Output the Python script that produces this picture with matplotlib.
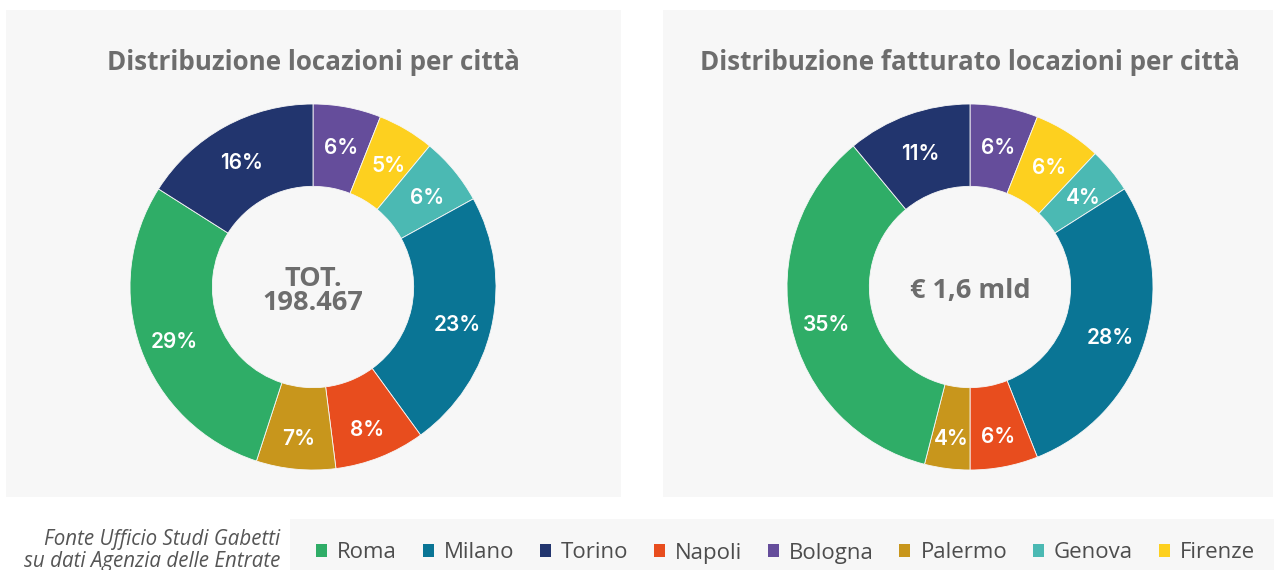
import matplotlib.pyplot as plt
from matplotlib.patches import Rectangle, Patch
from matplotlib.transforms import offset_copy

# slice order (clockwise from 12 o'clock)
cities = ["Bologna", "Firenze", "Genova", "Milano", "Napoli", "Palermo", "Roma", "Torino"]
locazioni = [6, 5, 6, 23, 8, 7, 29, 16]
fatturato = [6, 6, 4, 28, 6, 4, 35, 11]

colors = {"Roma": "#2fad67", "Milano": "#0a7595", "Torino": "#22356e", "Napoli": "#e84d1e",
          "Bologna": "#654d9b", "Palermo": "#c8961c", "Genova": "#4bb9b3", "Firenze": "#fdd01f"}
legend_order = ["Roma", "Milano", "Torino", "Napoli", "Bologna", "Palermo", "Genova", "Firenze"]

titles = ["Distribuzione locazioni per città", "Distribuzione fatturato locazioni per città"]
centers = ["TOT.\n198.467", "€ 1,6 mld"]

W, H = 1274, 570
fig = plt.figure(figsize=(W / 100, H / 100), dpi=100)
fig.patch.set_facecolor("white")

gray_bg = "#f7f7f7"
txt_gray = "#6d6d6d"

def fx(px):
    return px / W

def fy(py):
    return 1 - py / H

# panel backgrounds
for x0, x1 in [(6, 621), (663, 1273)]:
    fig.patches.append(Rectangle((fx(x0), fy(497)), fx(x1 - x0), (497 - 10) / H,
                                 transform=fig.transFigure, facecolor=gray_bg, edgecolor="none", zorder=-5))
# legend box
fig.patches.append(Rectangle((fx(290), 0), fx(W - 290), (570 - 519) / H,
                             transform=fig.transFigure, facecolor=gray_bg, edgecolor="none", zorder=-5))

R = 183
for i, (cx, vals) in enumerate([(313, locazioni), (970, fatturato)]):
    cy = 287
    ax = fig.add_axes([fx(cx - R), fy(cy + R), fx(2 * R), 2 * R / H])
    wedges, texts = ax.pie(vals, colors=[colors[c] for c in cities], startangle=90, counterclock=False,
                           radius=1, wedgeprops=dict(width=0.45, edgecolor="#f7f7f7", linewidth=0.6),
                           labels=[f"{v}%" for v in vals], labeldistance=0.806,
                           textprops=dict(color="white", fontsize=15, fontweight="semibold",
                                          family="Inter", ha="center", va="center"))
    # labels sit a little below the ring middle
    for t in texts:
        t.set_transform(offset_copy(t.get_transform(), fig=fig, x=0, y=-5.5, units="dots"))
    ax.set_xlim(-1, 1)
    ax.set_ylim(-1, 1)
    ax.set_aspect("equal")
    ax.axis("off")
    t = ax.text(0, 0, centers[i], ha="center", va="center", fontsize=19.5, fontweight="bold",
                family="Open Sans", color=txt_gray, linespacing=0.9)
    t.set_transform(offset_copy(ax.transData, fig=fig, x=0, y=-4, units="dots"))
    fig.text(fx(cx), fy(62), titles[i], ha="center", va="center", fontsize=18.7,
             fontweight="bold", family="Open Sans", color=txt_gray)

handles = [Patch(facecolor=colors[c], edgecolor="none", label=c) for c in legend_order]
fig.legend(handles=handles, loc="center left", bbox_to_anchor=(fx(296), fy(553)), ncol=8,
           frameon=False, handlelength=0.5, handleheight=0.5, handletextpad=0.45,
           columnspacing=1.15, prop=dict(family="Open Sans", size=16), labelcolor="#4d4d4d")

fig.text(fx(280), fy(540), "Fonte Ufficio Studi Gabetti", ha="right", va="center",
         fontsize=14.8, style="italic", family="Open Sans", color="#555555")
fig.text(fx(280), fy(562), "su dati Agenzia delle Entrate", ha="right", va="center",
         fontsize=14.8, style="italic", family="Open Sans", color="#555555")

fig.savefig("out.png", dpi=100, facecolor="white")
